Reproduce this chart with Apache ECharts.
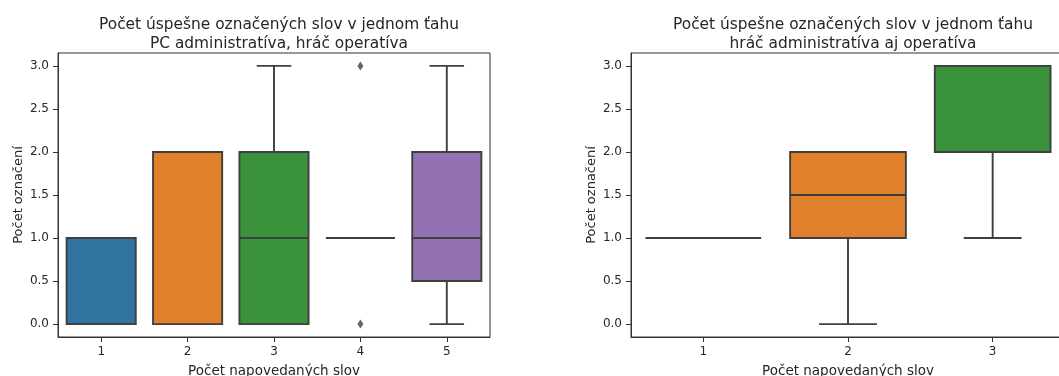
<!DOCTYPE html>
<html><head><meta charset="utf-8">
<script src="https://cdn.jsdelivr.net/npm/echarts@6/dist/echarts.min.js"></script>
<style>html,body{margin:0;padding:0;background:#fff}#c{width:1059px;height:376px}</style>
</head><body><div id="c"></div>
<script>
// ---- data ----
const titleLeft = 'Počet úspešne označených slov v jednom ťahu\nPC administratíva, hráč operatíva';
const titleRight = 'Počet úspešne označených slov v jednom ťahu\nhráč administratíva aj operatíva';
const xName = 'Počet napovedaných slov';
const yName = 'Počet označení';
const catsLeft = ['1', '2', '3', '4', '5'];
// [min, q1, median, q3, max]
const statsLeft = [[0, 0, 0, 1, 1], [0, 0, 2, 2, 2], [0, 0, 1, 2, 3], [1, 1, 1, 1, 1], [0, 0.5, 1, 2, 3]];
const outliersLeft = [['4', 0], ['4', 3]];
const catsRight = ['1', '2', '3'];
const statsRight = [[1, 1, 1, 1, 1], [0, 1, 1.5, 2, 2], [1, 2, 3, 3, 3]];
const outliersRight = [];
const yTicks = [0, 0.5, 1, 1.5, 2, 2.5, 3];
const palette = ['#3274a1', '#e1812c', '#3a923a', '#c03d3e', '#9372b2'];

const LINE = '#3f3f3f';
const AXIS = '#333333';
const TEXT = '#262626';
const FONT = 'DejaVu Sans';

function boxData(stats) {
  return stats.map((s, i) => [i].concat(s));
}
function renderBox(params, api) {
  const i = api.value(0);
  const w = api.size([1, 0])[0] * 0.8;
  const cx = api.coord([i, 0])[0];
  const yMin = api.coord([i, api.value(1)])[1];
  const yQ1 = api.coord([i, api.value(2)])[1];
  const yMed = api.coord([i, api.value(3)])[1];
  const yQ3 = api.coord([i, api.value(4)])[1];
  const yMax = api.coord([i, api.value(5)])[1];
  const color = palette[i % palette.length];
  const ls = { stroke: LINE, lineWidth: 1.9 };
  const children = [];
  if (Math.abs(yMax - yQ3) > 0.5) {
    children.push({ type: 'line', shape: { x1: cx, y1: yQ3, x2: cx, y2: yMax }, style: ls });
    children.push({ type: 'line', shape: { x1: cx - w / 4, y1: yMax, x2: cx + w / 4, y2: yMax }, style: ls });
  }
  if (Math.abs(yMin - yQ1) > 0.5) {
    children.push({ type: 'line', shape: { x1: cx, y1: yQ1, x2: cx, y2: yMin }, style: ls });
    children.push({ type: 'line', shape: { x1: cx - w / 4, y1: yMin, x2: cx + w / 4, y2: yMin }, style: ls });
  }
  if (Math.abs(yQ1 - yQ3) > 0.5) {
    children.push({ type: 'rect', shape: { x: cx - w / 2, y: yQ3, width: w, height: yQ1 - yQ3 },
      style: { fill: color, stroke: LINE, lineWidth: 1.9 } });
  }
  children.push({ type: 'line', shape: { x1: cx - w / 2, y1: yMed, x2: cx + w / 2, y2: yMed }, style: ls });
  return { type: 'group', children: children };
}

function xAxis(idx, cats) {
  return {
    type: 'category', gridIndex: idx, data: cats, boundaryGap: true,
    name: xName, nameLocation: 'middle', nameGap: 27,
    nameTextStyle: { fontFamily: FONT, fontSize: 13.5, color: TEXT },
    axisLine: { show: true, onZero: false, lineStyle: { color: AXIS, width: 1 } },
    axisTick: { show: true, alignWithLabel: true, length: 5, lineStyle: { color: AXIS } },
    axisLabel: { fontFamily: FONT, fontSize: 12, color: TEXT, margin: 9 },
    splitLine: { show: false }
  };
}
function yAxis(idx) {
  return {
    type: 'value', gridIndex: idx, min: -0.15, max: 3.15,
    name: yName, nameLocation: 'middle', nameGap: 33, nameRotate: 90,
    nameTextStyle: { fontFamily: FONT, fontSize: 13, color: TEXT },
    axisLine: { show: true, onZero: false, lineStyle: { color: AXIS, width: 1 } },
    axisTick: { show: true, length: 5, customValues: yTicks, lineStyle: { color: AXIS } },
    axisLabel: { fontFamily: FONT, fontSize: 12, color: TEXT, margin: 9,
      customValues: yTicks, formatter: v => Number(v).toFixed(1) },
    splitLine: { show: false }
  };
}

const chart = echarts.init(document.getElementById('c'), null, { renderer: 'canvas' });
chart.setOption({
  animation: false,
  backgroundColor: '#fff',
  title: [
    { text: titleLeft, left: 274, top: 10, textAlign: 'center',
      textStyle: { fontFamily: FONT, fontSize: 15.4, fontWeight: 'normal', color: TEXT, lineHeight: 19 } },
    { text: titleRight, left: 848, top: 10, textAlign: 'center',
      textStyle: { fontFamily: FONT, fontSize: 15.4, fontWeight: 'normal', color: TEXT, lineHeight: 19 } }
  ],
  grid: [
    { left: 58, top: 53, width: 432, height: 284, containLabel: false, outerBoundsMode: 'none',
      show: true, borderColor: AXIS, borderWidth: 1, backgroundColor: 'transparent' },
    { left: 631, top: 53, width: 434, height: 284, containLabel: false, outerBoundsMode: 'none',
      show: true, borderColor: AXIS, borderWidth: 1, backgroundColor: 'transparent' }
  ],
  xAxis: [xAxis(0, catsLeft), xAxis(1, catsRight)],
  yAxis: [yAxis(0), yAxis(1)],
  series: [
    { type: 'custom', xAxisIndex: 0, yAxisIndex: 0, renderItem: renderBox,
      encode: { x: 0, y: [1, 2, 3, 4, 5] }, data: boxData(statsLeft), clip: false },
    { type: 'custom', xAxisIndex: 1, yAxisIndex: 1, renderItem: renderBox,
      encode: { x: 0, y: [1, 2, 3, 4, 5] }, data: boxData(statsRight), clip: false },
    { type: 'scatter', xAxisIndex: 0, yAxisIndex: 0, symbol: 'diamond', symbolSize: [6, 9],
      itemStyle: { color: LINE }, data: outliersLeft },
    { type: 'scatter', xAxisIndex: 1, yAxisIndex: 1, symbol: 'diamond', symbolSize: [6, 9],
      itemStyle: { color: LINE }, data: outliersRight }
  ]
});
</script></body></html>
